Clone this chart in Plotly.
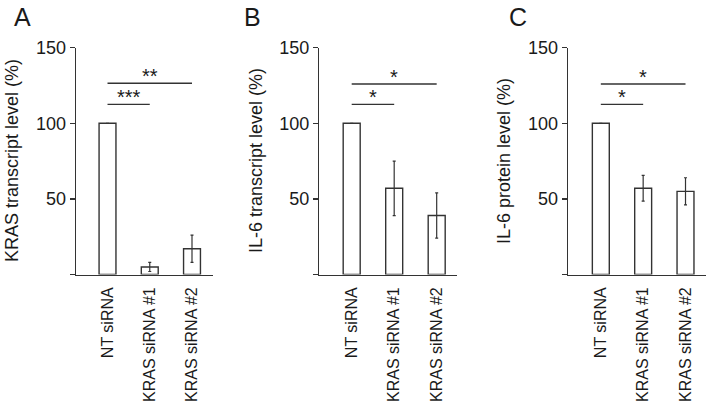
import plotly.graph_objects as go

# ---- data ----
categories = ["NT siRNA", "KRAS siRNA #1", "KRAS siRNA #2"]

kras_mean = [100, 5, 17]
kras_err = [0, 3, 9]

il6_tx_mean = [100, 57, 39]
il6_tx_err = [0, 18, 15]

il6_prot_mean = [100, 57, 55]
il6_prot_err = [0, 8.5, 9]

y_titles = ["KRAS transcript level (%)", "IL-6 transcript level (%)", "IL-6 protein level (%)"]
panel_letters = ["A", "B", "C"]

sig_pairs = [(0, 1), (0, 2)]
sig_levels_A = [112.5, 126.5]
sig_labels_A = ["***", "**"]
sig_levels_B = [112.5, 126.0]
sig_labels_B = ["*", "*"]
sig_levels_C = [112.5, 126.0]
sig_labels_C = ["*", "*"]

y_tickvals = [0, 50, 100, 150]
y_ticktext = ["", "50", "100", "150"]

# ---- layout geometry (pixels) ----
W, H = 709, 412
FONT = "Liberation Sans, Arial, sans-serif"
LINE = "#333333"
TEXT = "#1a1a1a"

panels = [
    dict(mean=kras_mean, err=kras_err, levels=sig_levels_A, labels=sig_labels_A,
         xpx=(76, 213), xr=(-0.746, 2.497), title_x=12, letter_x=12),
    dict(mean=il6_tx_mean, err=il6_tx_err, levels=sig_levels_B, labels=sig_labels_B,
         xpx=(319.3, 457.3), xr=(-0.762, 2.485), title_x=256, letter_x=242),
    dict(mean=il6_prot_mean, err=il6_prot_err, levels=sig_levels_C, labels=sig_labels_C,
         xpx=(568, 706), xr=(-0.775, 2.484), title_x=504, letter_x=507),
]
y_dom = [(H - 274.5) / H, (H - 47.7) / H]

fig = go.Figure()
shapes = []
annotations = []
xpos = list(range(len(categories)))

for i, p in enumerate(panels):
    n = "" if i == 0 else str(i + 1)
    xa, ya = "x" + n, "y" + n
    fig.add_trace(go.Bar(
        x=xpos, y=p["mean"], width=0.4,
        marker=dict(color="white", line=dict(color=LINE, width=1.4)),
        error_y=dict(type="data", array=p["err"], visible=True,
                     color=LINE, thickness=1.2, width=1.5),
        xaxis=xa, yaxis=ya, showlegend=False, hoverinfo="skip",
    ))
    fig.layout["xaxis" + n] = dict(
        domain=[p["xpx"][0] / W, p["xpx"][1] / W], range=list(p["xr"]),
        anchor=ya, tickmode="array", tickvals=xpos, ticktext=categories,
        tickangle=-90, ticks="", showline=True, linecolor=LINE, linewidth=1.4,
        showgrid=False, zeroline=False, ticklabelstandoff=5, automargin=False,
        tickfont=dict(family=FONT, size=16, color=TEXT),
    )
    fig.layout["yaxis" + n] = dict(
        domain=y_dom, range=[0, 150], anchor=xa,
        tickmode="array", tickvals=y_tickvals, ticktext=y_ticktext,
        ticks="outside", ticklen=5, tickwidth=1.4, tickcolor=LINE,
        showline=True, linecolor=LINE, linewidth=1.4, automargin=False,
        showgrid=False, zeroline=False,
        tickfont=dict(family=FONT, size=18, color=TEXT),
    )
    # significance bars
    for (a, b), lev, lab in zip(sig_pairs, p["levels"], p["labels"]):
        shapes.append(dict(type="line", xref=xa, yref=ya, x0=a, x1=b, y0=lev, y1=lev,
                           line=dict(color=LINE, width=1.4)))
        annotations.append(dict(xref=xa, yref=ya, x=(a + b) / 2, y=lev, text=lab,
                                showarrow=False, yanchor="bottom", yshift=-6,
                                font=dict(family=FONT, size=20, color=TEXT)))
    # y title
    annotations.append(dict(xref="paper", yref="paper", x=p["title_x"] / W,
                            y=(y_dom[0] + y_dom[1]) / 2, text=y_titles[i],
                            textangle=-90, showarrow=False, xanchor="center", yanchor="middle",
                            font=dict(family=FONT, size=18, color=TEXT)))
    # panel letter
    annotations.append(dict(xref="paper", yref="paper", x=p["letter_x"] / W, y=1 - 1 / H,
                            text=panel_letters[i], showarrow=False,
                            xanchor="left", yanchor="top",
                            font=dict(family=FONT, size=25, color=TEXT)))

fig.update_layout(
    width=W, height=H, margin=dict(l=0, r=0, t=0, b=0),
    paper_bgcolor="white", plot_bgcolor="white",
    shapes=shapes, annotations=annotations, bargap=0,
)

fig.write_html("out.html", config={"displayModeBar": False, "staticPlot": True},
               post_script="document.body.style.margin='0';document.body.style.overflow='hidden';")
